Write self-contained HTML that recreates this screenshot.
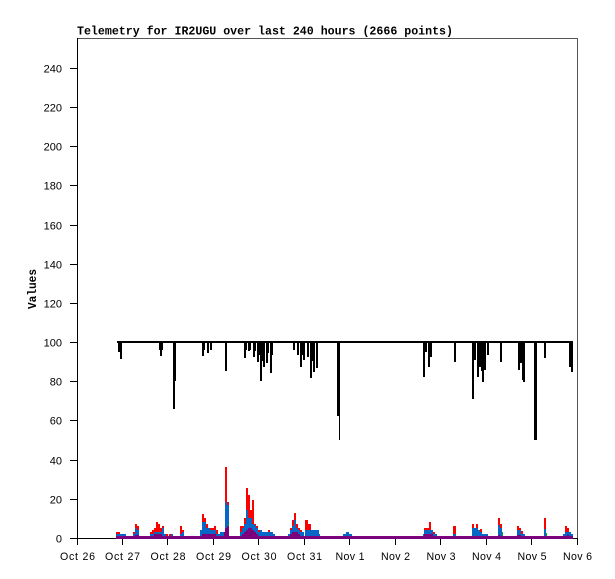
<!DOCTYPE html>
<html><head><meta charset="utf-8"><style>
html,body{margin:0;padding:0;background:#fff;}
svg{display:block;}
</style></head><body>
<svg width="615" height="579" viewBox="0 0 615 579" xmlns="http://www.w3.org/2000/svg" shape-rendering="crispEdges">
<rect x="0" y="0" width="615" height="579" fill="#fff"/>
<text x="77" y="34.5" font-family="Liberation Mono, monospace" font-weight="bold" font-size="11.7" textLength="376" lengthAdjust="spacingAndGlyphs" fill="#000">Telemetry for IR2UGU over last 240 hours (2666 points)</text>
<text transform="translate(36,289) rotate(-90)" text-anchor="middle" font-family="Liberation Mono, monospace" font-weight="bold" font-size="11.7" textLength="40" lengthAdjust="spacingAndGlyphs" fill="#000">Values</text>
<rect x="77" y="38" width="501" height="1" fill="#555"/>
<rect x="577" y="38" width="1" height="501" fill="#555"/>
<rect x="77" y="38" width="1" height="501" fill="#000"/>
<rect x="77" y="538" width="501" height="1" fill="#000"/>
<g fill="#000">
<rect x="70" y="538" width="7" height="1"/><rect x="70" y="499" width="7" height="1"/><rect x="70" y="460" width="7" height="1"/><rect x="70" y="420" width="7" height="1"/><rect x="70" y="381" width="7" height="1"/><rect x="70" y="342" width="7" height="1"/><rect x="70" y="303" width="7" height="1"/><rect x="70" y="264" width="7" height="1"/><rect x="70" y="225" width="7" height="1"/><rect x="70" y="185" width="7" height="1"/><rect x="70" y="146" width="7" height="1"/><rect x="70" y="107" width="7" height="1"/><rect x="70" y="68" width="7" height="1"/>
</g>
<g font-family="Liberation Sans, sans-serif" font-size="11" fill="#000" text-anchor="end">
<text x="62" y="542.5">0</text><text x="62" y="503.5">20</text><text x="62" y="464.5">40</text><text x="62" y="424.5">60</text><text x="62" y="385.5">80</text><text x="62" y="346.5">100</text><text x="62" y="307.5">120</text><text x="62" y="268.5">140</text><text x="62" y="229.5">160</text><text x="62" y="189.5">180</text><text x="62" y="150.5">200</text><text x="62" y="111.5">220</text><text x="62" y="72.5">240</text>
</g>
<g fill="#000">
<rect x="77" y="538" width="1" height="7"/><rect x="122" y="538" width="1" height="7"/><rect x="167" y="538" width="1" height="7"/><rect x="213" y="538" width="1" height="7"/><rect x="258" y="538" width="1" height="7"/><rect x="304" y="538" width="1" height="7"/><rect x="349" y="538" width="1" height="7"/><rect x="395" y="538" width="1" height="7"/><rect x="440" y="538" width="1" height="7"/><rect x="486" y="538" width="1" height="7"/><rect x="531" y="538" width="1" height="7"/><rect x="577" y="538" width="1" height="7"/>
</g>
<g font-family="Liberation Sans, sans-serif" font-size="10.6" fill="#000" text-anchor="middle" lengthAdjust="spacingAndGlyphs">
<text x="77.5" y="560" textLength="35">Oct 26</text><text x="122.5" y="560" textLength="35">Oct 27</text><text x="168" y="560" textLength="35">Oct 28</text><text x="213.5" y="560" textLength="35">Oct 29</text><text x="259" y="560" textLength="35">Oct 30</text><text x="304.5" y="560" textLength="35">Oct 31</text><text x="350" y="560" textLength="29">Nov 1</text><text x="395.5" y="560" textLength="29">Nov 2</text><text x="441" y="560" textLength="29">Nov 3</text><text x="486.5" y="560" textLength="29">Nov 4</text><text x="532" y="560" textLength="29">Nov 5</text><text x="577.5" y="560" textLength="29">Nov 6</text>
</g>
<g fill="#000">
<rect x="117" y="341" width="455" height="2"/>
<rect x="118" y="341" width="2" height="11"/><rect x="120" y="341" width="2" height="18"/>
<rect x="159" y="341" width="1" height="9"/><rect x="160" y="341" width="2" height="15"/><rect x="162" y="341" width="1" height="9"/>
<rect x="173" y="341" width="2" height="68"/><rect x="175" y="341" width="1" height="40"/>
<rect x="202" y="341" width="2" height="15"/><rect x="204" y="341" width="1" height="9"/><rect x="207" y="341" width="2" height="12"/><rect x="210" y="341" width="2" height="9"/>
<rect x="225" y="341" width="2" height="30"/>
<rect x="244" y="341" width="2" height="17"/><rect x="246" y="341" width="1" height="9"/><rect x="248" y="341" width="2" height="10"/><rect x="250" y="341" width="1" height="9"/><rect x="253" y="341" width="2" height="16"/><rect x="255" y="341" width="1" height="10"/><rect x="257" y="341" width="2" height="21"/><rect x="259" y="341" width="1" height="14"/><rect x="260" y="341" width="2" height="40"/><rect x="262" y="341" width="1" height="20"/><rect x="263" y="341" width="2" height="26"/><rect x="266" y="341" width="2" height="22"/><rect x="268" y="341" width="1" height="12"/><rect x="270" y="341" width="2" height="32"/><rect x="272" y="341" width="1" height="14"/>
<rect x="293" y="341" width="2" height="9"/><rect x="297" y="341" width="2" height="14"/><rect x="300" y="341" width="2" height="26"/><rect x="302" y="341" width="1" height="14"/><rect x="303" y="341" width="2" height="19"/><rect x="307" y="341" width="2" height="16"/><rect x="310" y="341" width="2" height="37"/><rect x="312" y="341" width="1" height="20"/><rect x="313" y="341" width="2" height="31"/><rect x="316" y="341" width="2" height="27"/>
<rect x="337" y="341" width="2" height="75"/><rect x="339" y="341" width="1" height="99"/>
<rect x="423" y="341" width="2" height="36"/><rect x="425" y="341" width="2" height="11"/><rect x="428" y="341" width="2" height="26"/><rect x="430" y="341" width="2" height="16"/>
<rect x="454" y="341" width="2" height="21"/>
<rect x="472" y="341" width="2" height="58"/><rect x="474" y="341" width="2" height="19"/><rect x="477" y="341" width="2" height="36"/><rect x="479" y="341" width="2" height="26"/><rect x="481" y="341" width="1" height="30"/><rect x="482" y="341" width="2" height="41"/><rect x="484" y="341" width="2" height="29"/><rect x="487" y="341" width="2" height="14"/>
<rect x="500" y="341" width="2" height="21"/>
<rect x="518" y="341" width="2" height="29"/><rect x="520" y="341" width="2" height="22"/><rect x="522" y="341" width="1" height="39"/><rect x="523" y="341" width="2" height="41"/>
<rect x="534" y="341" width="3" height="99"/>
<rect x="544" y="341" width="2" height="17"/>
<rect x="569" y="341" width="2" height="26"/><rect x="571" y="341" width="2" height="31"/>
</g>
<g fill="#ff0000">
<rect x="116" y="532" width="4" height="6"/><rect x="120" y="534" width="2" height="4"/><rect x="122" y="534" width="4" height="4"/>
<rect x="133" y="532" width="2" height="6"/><rect x="135" y="524" width="2" height="14"/><rect x="137" y="526" width="2" height="12"/>
<rect x="150" y="532" width="2" height="6"/><rect x="152" y="530" width="2" height="8"/><rect x="154" y="528" width="2" height="10"/><rect x="156" y="522" width="2" height="16"/><rect x="158" y="524" width="2" height="14"/><rect x="160" y="528" width="2" height="10"/><rect x="162" y="526" width="2" height="12"/><rect x="164" y="534" width="2" height="4"/><rect x="166" y="534" width="2" height="4"/><rect x="169" y="534" width="2" height="4"/><rect x="171" y="534" width="2" height="4"/><rect x="180" y="526" width="2" height="12"/><rect x="182" y="530" width="2" height="8"/>
<rect x="200" y="530" width="2" height="8"/><rect x="202" y="514" width="2" height="24"/><rect x="204" y="518" width="2" height="20"/><rect x="206" y="524" width="2" height="14"/><rect x="208" y="528" width="2" height="10"/><rect x="210" y="528" width="2" height="10"/><rect x="212" y="528" width="2" height="10"/><rect x="214" y="526" width="2" height="12"/><rect x="216" y="530" width="2" height="8"/><rect x="224" y="534" width="1" height="4"/><rect x="225" y="467" width="2" height="71"/><rect x="227" y="502" width="2" height="36"/>
<rect x="240" y="526" width="2" height="12"/><rect x="242" y="526" width="2" height="12"/><rect x="244" y="518" width="2" height="20"/><rect x="246" y="488" width="2" height="50"/><rect x="248" y="495" width="2" height="43"/><rect x="250" y="510" width="2" height="28"/><rect x="252" y="500" width="2" height="38"/><rect x="254" y="524" width="2" height="14"/><rect x="256" y="526" width="2" height="12"/><rect x="258" y="530" width="2" height="8"/><rect x="260" y="530" width="2" height="8"/><rect x="268" y="530" width="2" height="8"/>
<rect x="290" y="528" width="2" height="10"/><rect x="292" y="520" width="2" height="18"/><rect x="294" y="513" width="2" height="25"/><rect x="296" y="524" width="2" height="14"/><rect x="298" y="528" width="2" height="10"/><rect x="300" y="530" width="2" height="8"/><rect x="305" y="520" width="3" height="18"/><rect x="308" y="524" width="3" height="14"/><rect x="311" y="530" width="4" height="8"/><rect x="315" y="530" width="4" height="8"/>
<rect x="424" y="528" width="3" height="10"/><rect x="427" y="528" width="2" height="10"/><rect x="429" y="522" width="2" height="16"/><rect x="431" y="530" width="2" height="8"/><rect x="433" y="532" width="2" height="6"/><rect x="453" y="526" width="3" height="12"/>
<rect x="472" y="524" width="2" height="14"/><rect x="474" y="528" width="2" height="10"/><rect x="476" y="524" width="2" height="14"/><rect x="478" y="530" width="2" height="8"/><rect x="480" y="529" width="2" height="9"/><rect x="498" y="518" width="2" height="20"/><rect x="500" y="524" width="2" height="14"/>
<rect x="517" y="526" width="2" height="12"/><rect x="519" y="528" width="2" height="10"/><rect x="521" y="531" width="2" height="7"/><rect x="544" y="518" width="2" height="20"/><rect x="546" y="534" width="1" height="4"/>
<rect x="565" y="526" width="2" height="12"/><rect x="567" y="528" width="2" height="10"/>
</g>
<g fill="#0866c6">
<rect x="116" y="534" width="10" height="4"/><rect x="129" y="536" width="2" height="2"/><rect x="133" y="534" width="2" height="4"/><rect x="135" y="528" width="2" height="10"/><rect x="137" y="530" width="2" height="8"/><rect x="139" y="536" width="1" height="2"/>
<rect x="150" y="534" width="4" height="4"/><rect x="154" y="532" width="8" height="6"/><rect x="162" y="528" width="2" height="10"/><rect x="164" y="534" width="2" height="4"/><rect x="166" y="536" width="2" height="2"/><rect x="169" y="536" width="2" height="2"/><rect x="171" y="534" width="2" height="4"/><rect x="173" y="536" width="2" height="2"/><rect x="177" y="536" width="2" height="2"/><rect x="180" y="534" width="2" height="4"/><rect x="182" y="532" width="2" height="6"/>
<rect x="200" y="530" width="2" height="8"/><rect x="202" y="522" width="4" height="16"/><rect x="206" y="528" width="4" height="10"/><rect x="210" y="530" width="6" height="8"/><rect x="216" y="534" width="4" height="4"/><rect x="220" y="532" width="4" height="6"/><rect x="224" y="534" width="1" height="4"/><rect x="225" y="502" width="2" height="36"/><rect x="227" y="505" width="2" height="33"/><rect x="229" y="536" width="1" height="2"/>
<rect x="240" y="532" width="2" height="6"/><rect x="242" y="528" width="2" height="10"/><rect x="244" y="524" width="2" height="14"/><rect x="246" y="510" width="2" height="28"/><rect x="248" y="518" width="4" height="20"/><rect x="252" y="524" width="2" height="14"/><rect x="254" y="525" width="2" height="13"/><rect x="256" y="528" width="2" height="10"/><rect x="258" y="532" width="2" height="6"/><rect x="260" y="530" width="2" height="8"/><rect x="262" y="532" width="11" height="6"/><rect x="273" y="534" width="2" height="4"/>
<rect x="288" y="534" width="2" height="4"/><rect x="290" y="530" width="2" height="8"/><rect x="292" y="526" width="2" height="12"/><rect x="294" y="520" width="2" height="18"/><rect x="296" y="528" width="2" height="10"/><rect x="298" y="530" width="2" height="8"/><rect x="300" y="532" width="4" height="6"/><rect x="305" y="530" width="14" height="8"/><rect x="319" y="534" width="1" height="4"/>
<rect x="336" y="536" width="3" height="2"/><rect x="343" y="534" width="3" height="4"/><rect x="346" y="532" width="3" height="6"/><rect x="349" y="534" width="3" height="4"/><rect x="352" y="536" width="1" height="2"/><rect x="375" y="536" width="2" height="2"/>
<rect x="423" y="534" width="1" height="4"/><rect x="424" y="530" width="9" height="8"/><rect x="433" y="534" width="4" height="4"/><rect x="437" y="536" width="2" height="2"/><rect x="447" y="536" width="2" height="2"/><rect x="453" y="534" width="3" height="4"/>
<rect x="472" y="528" width="6" height="10"/><rect x="478" y="530" width="2" height="8"/><rect x="480" y="532" width="2" height="6"/><rect x="482" y="534" width="6" height="4"/><rect x="488" y="536" width="2" height="2"/><rect x="491" y="536" width="7" height="2"/><rect x="498" y="525" width="2" height="13"/><rect x="500" y="528" width="2" height="10"/>
<rect x="517" y="530" width="4" height="8"/><rect x="521" y="534" width="4" height="4"/><rect x="525" y="536" width="2" height="2"/><rect x="533" y="536" width="4" height="2"/><rect x="541" y="536" width="2" height="2"/><rect x="544" y="529" width="2" height="9"/><rect x="546" y="536" width="1" height="2"/>
<rect x="563" y="534" width="2" height="4"/><rect x="565" y="532" width="6" height="6"/><rect x="571" y="534" width="2" height="4"/>
</g>
<g fill="#12a012">
<rect x="228" y="524" width="1" height="4"/><rect x="502" y="532" width="1" height="4"/><rect x="546" y="533" width="1" height="3"/><rect x="158" y="533" width="1" height="2"/>
</g>
<g fill="#7c007c">
<rect x="116" y="536" width="457" height="3"/>
<rect x="135" y="535" width="4" height="3"/><rect x="154" y="534" width="8" height="4"/><rect x="202" y="534" width="14" height="4"/><rect x="224" y="532" width="2" height="6"/><rect x="225" y="528" width="2" height="10"/><rect x="227" y="526" width="2" height="12"/>
<rect x="242" y="534" width="2" height="4"/><rect x="244" y="532" width="2" height="6"/><rect x="246" y="530" width="2" height="8"/><rect x="248" y="528" width="4" height="10"/><rect x="252" y="530" width="2" height="8"/><rect x="254" y="532" width="2" height="6"/><rect x="256" y="534" width="2" height="4"/>
<rect x="290" y="534" width="2" height="4"/><rect x="292" y="532" width="6" height="6"/><rect x="298" y="534" width="2" height="4"/>
<rect x="424" y="534" width="9" height="4"/><rect x="498" y="535" width="2" height="3"/><rect x="517" y="535" width="4" height="3"/><rect x="567" y="535" width="2" height="3"/>
</g>
</svg>
</body></html>
